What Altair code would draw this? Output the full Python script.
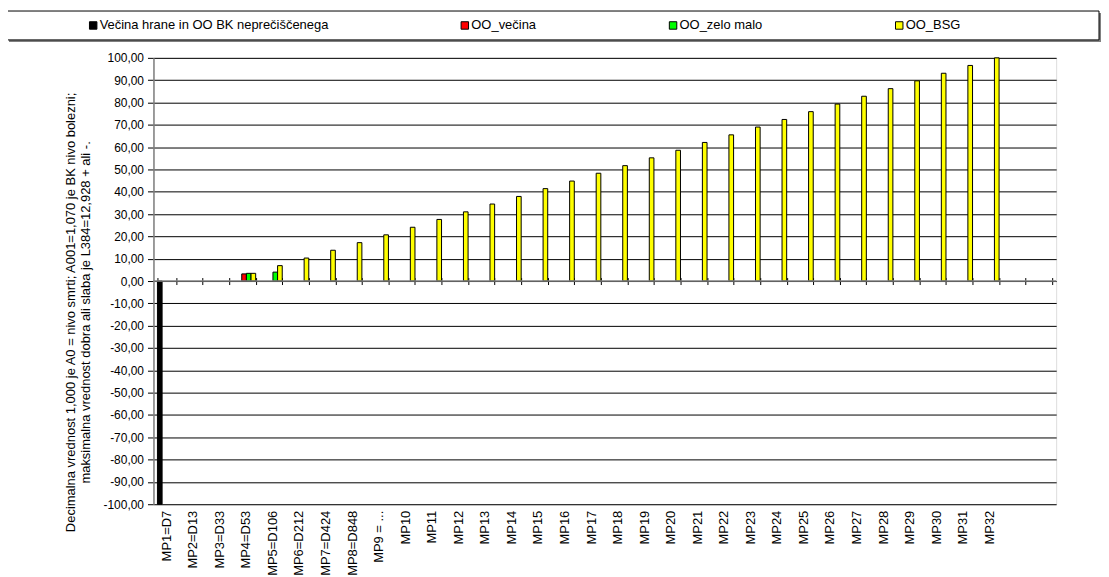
import altair as alt
import pandas as pd

categories = ["MP1=D7", "MP2=D13", "MP3=D33", "MP4=D53", "MP5=D106", "MP6=D212",
              "MP7=D424", "MP8=D848", "MP9 = ...", "MP10", "MP11", "MP12", "MP13",
              "MP14", "MP15", "MP16", "MP17", "MP18", "MP19", "MP20", "MP21", "MP22",
              "MP23", "MP24", "MP25", "MP26", "MP27", "MP28", "MP29", "MP30", "MP31", "MP32"]
empty_slots = [" ", "  "]

series_names = ["Večina hrane in OO BK neprečiščenega", "OO_večina", "OO_zelo malo", "OO_BSG"]
series_colors = ["#000000", "#FF0000", "#00FF00", "#FFFF00"]

black_vals = [-100.0] + [None] * 31
red_vals = [None, None, None, 3.2] + [None] * 28
green_vals = [None, None, None, 3.45, 4.0] + [None] * 27
yellow_vals = [None, None, None, 3.45, 6.9, 10.3, 13.8, 17.2, 20.7, 24.1, 27.6, 31.0,
               34.5, 37.9, 41.4, 44.8, 48.3, 51.7, 55.2, 58.6, 62.1, 65.5, 69.0, 72.4,
               75.9, 79.3, 82.8, 86.2, 89.7, 93.1, 96.6, 100.0]

y_title = ["Decimalna vrednost 1,000 je A0 = nivo smrti; A001=1,070 je BK nivo bolezni;",
           "maksimalna vrednost dobra ali slaba je L384=12,928 + ali -."]

rows = []
for name, vals in zip(series_names, [black_vals, red_vals, green_vals, yellow_vals]):
    for c, v in zip(categories, vals):
        if v is not None:
            rows.append({"cat": c, "series": name, "value": v})
df = pd.DataFrame(rows)

W, H = 906, 448
FONT = "Liberation Sans"

x_domain = categories + empty_slots
x_scale = alt.Scale(domain=x_domain, paddingInner=0.3, paddingOuter=0.15)
y_scale = alt.Scale(domain=[-100, 100], nice=False, zero=False)
color_scale = alt.Scale(domain=series_names, range=series_colors)

label_expr = "(datum.value < 0 ? '-' : '') + replace(format(abs(datum.value), '.2f'), '.', ',')"

bars = alt.Chart(df).mark_bar(stroke="#000000", strokeWidth=1).encode(
    x=alt.X("cat:N", scale=x_scale, sort=x_domain, title=None,
            axis=alt.Axis(orient="bottom", domain=False, ticks=False, grid=False,
                          labelAngle=270, labelAlign="right", labelBaseline="middle",
                          labelPadding=6, labelFontSize=13, labelColor="#000000",
                          labelFont=FONT, labelOverlap=False)),
    xOffset=alt.XOffset("series:N", sort=series_names,
                        scale=alt.Scale(domain=series_names, paddingInner=0, paddingOuter=0)),
    y=alt.Y("value:Q", scale=y_scale, title=y_title,
            axis=alt.Axis(orient="left", values=list(range(-100, 101, 10)),
                          labelExpr=label_expr, labelOverlap=False,
                          grid=True, gridColor="#000000", gridWidth=1, gridOpacity=1,
                          domainColor="#808080", domainWidth=1.5,
                          tickColor="#000000", tickSize=6, labelPadding=4,
                          labelFontSize=12, labelColor="#000000", labelFont=FONT,
                          titleFontSize=13, titleFont=FONT, titleFontWeight="normal",
                          titleColor="#000000", titleAngle=270, titleAlign="center",
                          titleBaseline="top", titleLineHeight=15,
                          titleX=-89, titleY=255)),
    color=alt.Color("series:N", scale=color_scale, sort=series_names,
                    legend=alt.Legend(title=None, orient="none", direction="horizontal",
                                      legendX=-69, legendY=-39, columns=4,
                                      gridAlign="none",
                                      columnPadding=128, symbolType="square",
                                      symbolSize=56, symbolStrokeColor="#000000",
                                      symbolStrokeWidth=1, symbolOffset=2, labelOffset=0,
                                      labelFontSize=13, labelFont=FONT, labelLimit=0,
                                      labelColor="#000000", padding=0)),
)

tick_layer = alt.Chart(df).mark_bar(opacity=0).encode(
    x=alt.X("cat:N", scale=x_scale, sort=x_domain, title=None,
            axis=alt.Axis(orient="top", offset=-227.5, domain=False, labels=False,
                          ticks=True, tickBand="extent", tickSize=7, tickColor="#000000",
                          tickWidth=1, grid=False)),
    y=alt.Y("value:Q", scale=y_scale, axis=None),
)

zero_line = alt.Chart(pd.DataFrame({"z": [0]})).mark_rule(color="#808080", strokeWidth=1.5).encode(
    y=alt.Y("z:Q", scale=y_scale, axis=None)
)

frame_df = pd.DataFrame({"k": [0]})
legend_shadow = alt.Chart(frame_df).mark_rect(fill="#808080").encode(
    x=alt.value(-145), x2=alt.value(951), y=alt.value(-45), y2=alt.value(-16)
)
legend_frame = alt.Chart(frame_df).mark_rect(fill="#FFFFFF", stroke="#000000", strokeWidth=1).encode(
    x=alt.value(-147), x2=alt.value(949), y=alt.value(-47), y2=alt.value(-18)
)

chart = alt.layer(legend_shadow, legend_frame, bars, tick_layer, zero_line).resolve_axis(
    x="independent", y="independent"
).properties(
    width=W, height=H,
    autosize=alt.AutoSizeParams(type="none"),
    padding={"left": 146, "top": 49, "right": 45, "bottom": 70},
).configure_view(
    stroke="#808080", strokeWidth=1.5
).configure(
    font=FONT
)

chart.save("out.html", embed_options={"renderer": "svg", "actions": False})
